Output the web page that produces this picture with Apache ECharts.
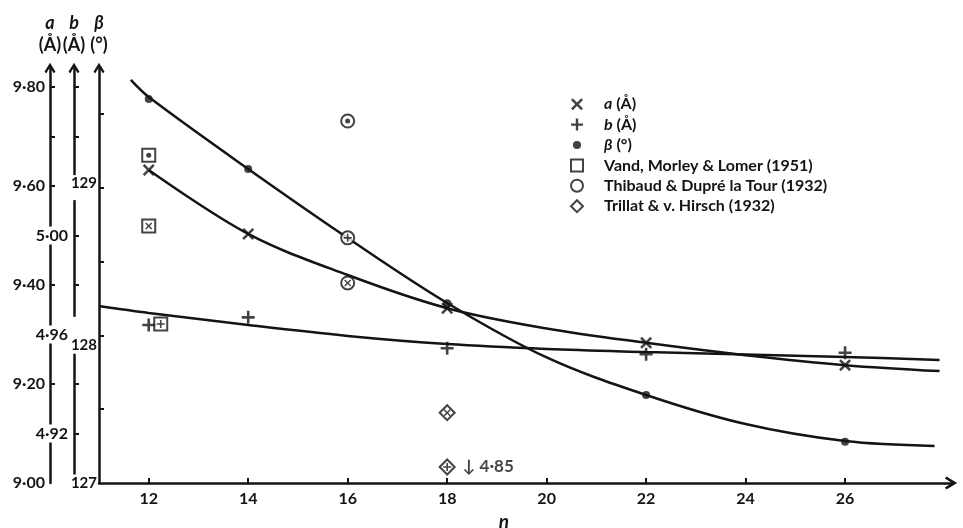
<!DOCTYPE html>
<html>
<head>
<meta charset="utf-8">
<script src="https://cdn.jsdelivr.net/npm/echarts@6/dist/echarts.min.js"></script>
<style>html,body{margin:0;padding:0;background:#fff}#c{width:963px;height:528px}</style>
</head>
<body>
<div id="c"></div>
<script>
// ---------------- data ----------------
// main measurements (n = number of carbon atoms)
const nMain    = [12, 14, 18, 22, 26];
const aMain    = [9.632, 9.503, 9.353, 9.283, 9.238];
const bMain    = [4.9638, 4.9669, 4.9544, 4.9520, 4.9526];
const betaMain = [129.600, 129.126, 128.217, 127.596, 127.280];

// smooth fitted curves
const aCurveN    = [12, 14, 16, 18, 20, 22, 24, 26, 27.9];
const aCurve     = [9.632, 9.503, 9.420, 9.353, 9.312, 9.283, 9.258, 9.238, 9.226];
const bCurveN    = [11, 12, 14, 16, 18, 20, 22, 24, 26, 27.9];
const bCurve     = [4.9715, 4.9687, 4.9638, 4.9594, 4.9561, 4.9541, 4.9529, 4.9519, 4.9509, 4.9497];
const betaCurveN = [11.64, 12, 14, 16, 18, 20, 22, 24, 26, 27.8];
const betaCurve  = [129.729, 129.613, 129.126, 128.659, 128.219, 127.850, 127.596, 127.399, 127.284, 127.251];

// literature values
const vandN = [12];  const vandA = [9.519]; const vandB = [4.9642]; const vandBeta = [129.219];   // Vand, Morley & Lomer (1951)
const thibN = [16];  const thibA = [9.404]; const thibB = [4.999];  const thibBeta = [129.451];   // Thibaud & Dupré la Tour (1932)
const trilN = [18];  const trilA = [9.142]; const trilB = [4.85];                                 // Trillat & v. Hirsch (1932)

// tick labels
const xTicks     = [12, 14, 16, 18, 20, 22, 24, 26];
const aLabels    = [9.0, 9.2, 9.4, 9.6, 9.8];
const aTicks     = [9.1, 9.2, 9.3, 9.4, 9.5, 9.6, 9.7, 9.8];
const bLabels    = [4.92, 4.96, 5.00];
const bTicks     = [4.92, 4.94, 4.96, 4.98, 5.00, 5.02, 5.04, 5.06];
const betaLabels = [127, 128, 129];
const betaTicks  = [127.5, 128, 128.5, 129, 129.5];

const legendNames = ['a (Å)', 'b (Å)', 'β (°)', 'Vand, Morley & Lomer (1951)', 'Thibaud & Dupré la Tour (1932)', 'Trillat & v. Hirsch (1932)'];

// ---------------- styling ----------------
const INK = '#141414';
const FONT = 'Lato, "Open Sans", "DejaVu Sans", sans-serif';
const SYM_X = 'path://M1.5,0L5,3.5L8.5,0L10,1.5L6.5,5L10,8.5L8.5,10L5,6.5L1.5,10L0,8.5L3.5,5L0,1.5Z';
const SYM_PLUS = 'path://M4,0H6V4H10V6H6V10H4V6H0V4H4Z';
const SYM_DOT_LEGEND = 'path://M0,0L0.001,0Z M10,10L10.001,10Z M5,1.6A3.4,3.4,0,1,1,4.99,1.6Z';
const ARROW = 'path://M5,0L10,8.2L8.4,9.4L5,4L1.6,9.4L0,8.2Z';

const X_MIN = 11, X_MAX = 28.13;
const A_MIN = 9.00, A_MAX = 9.838;
const B_MIN = 4.90, B_MAX = 5.0676;
const BETA_MIN = 127, BETA_MAX = 129.81;

const zip = (xs, ys) => xs.map((x, i) => [x, ys[i]]);
const dotFmt = v => v.toFixed(2).replace('.', '·');

function curve(data, axis) {
  return { type: 'line', yAxisIndex: axis, data, smooth: 0.35, showSymbol: false, silent: true,
    lineStyle: { color: INK, width: 2.5 }, itemStyle: { color: INK }, z: 2 };
}
function pts(name, axis, data, symbol, size, extra) {
  return Object.assign({ type: 'scatter', name, yAxisIndex: axis, data, symbol, symbolSize: size,
    clip: false, silent: true, itemStyle: { color: INK }, z: 4 }, extra || {});
}
function ringed(name, axis, data, ring, ringSize, inner, innerSize, extra) {
  const e = extra || {};
  return [
    pts(name, axis, data, ring, ringSize, Object.assign({ z: 3 }, e)),
    pts(name, axis, data, inner, innerSize, { z: 4, symbolOffset: e.symbolOffset || [0, 0] })
  ];
}

const VAND = legendNames[3], THIB = legendNames[4], TRIL = legendNames[5];
const trilBShown = trilN.map((n, i) => [n, Math.max(trilB[i], B_MIN)]);
const LABEL_FONT = { color: INK, fontFamily: FONT, fontSize: 16, fontWeight: 'bold' };

const series = [
  curve(zip(aCurveN, aCurve), 0),
  curve(zip(bCurveN, bCurve), 1),
  curve(zip(betaCurveN, betaCurve), 2),
  pts(legendNames[0], 0, zip(nMain, aMain), SYM_X, 12),
  pts(legendNames[1], 1, zip(nMain, bMain), SYM_PLUS, 13),
  pts(legendNames[2], 2, zip(nMain, betaMain), 'circle', 8),
  ...ringed(VAND, 0, zip(vandN, vandA), 'emptyRect', 13, SYM_X, 7),
  ...ringed(VAND, 1, zip(vandN, vandB), 'emptyRect', 13, SYM_PLUS, 8, { symbolOffset: [12, 0] }),
  ...ringed(VAND, 2, zip(vandN, vandBeta), 'emptyRect', 13, 'circle', 5),
  ...ringed(THIB, 0, zip(thibN, thibA), 'emptyCircle', 13, SYM_X, 7),
  ...ringed(THIB, 1, zip(thibN, thibB), 'emptyCircle', 13, SYM_PLUS, 8),
  ...ringed(THIB, 2, zip(thibN, thibBeta), 'emptyCircle', 13, 'circle', 5),
  ...ringed(TRIL, 0, zip(trilN, trilA), 'emptyDiamond', 15, SYM_X, 7),
  ...ringed(TRIL, 1, trilBShown, 'emptyDiamond', 15, SYM_PLUS, 8, {
    symbolOffset: [0, -16],
    label: { show: true, position: 'right', distance: 7, fontSize: 17, color: INK, fontFamily: FONT, fontWeight: 'bold',
      formatter: () => '↓ ' + dotFmt(trilB[0]) }
  })
];

function yAxis(min, max, offset, labels, ticks, fmt, nameRich, labelExtra) {
  return {
    type: 'value', position: 'left', offset, min, max,
    name: nameRich, nameLocation: 'end', nameGap: 12,
    nameTextStyle: { color: INK, fontFamily: FONT, fontSize: 18, fontWeight: 'bold', lineHeight: 22, align: 'center',
      rich: { i: { fontStyle: 'italic', fontFamily: FONT, fontSize: 18, fontWeight: 'bold', color: INK, lineHeight: 22 } } },
    axisLine: { show: true, symbol: ['none', ARROW], symbolSize: [11, 12], lineStyle: { color: INK, width: 2.5 } },
    axisTick: { show: true, inside: true, length: 5, customValues: ticks, lineStyle: { color: INK, width: 2 } },
    axisLabel: Object.assign({ show: true, customValues: labels, formatter: fmt, margin: 4,
      backgroundColor: '#fff', padding: [1, 1] }, LABEL_FONT, labelExtra || {}),
    splitLine: { show: false }
  };
}

const option = {
  animation: false,
  backgroundColor: '#fff',
  grid: { left: 99, right: 12, top: 68, bottom: 45, containLabel: false, outerBoundsMode: 'none' },
  legend: {
    orient: 'vertical', left: 570, top: 94, padding: 0, itemGap: 0, itemWidth: 12, itemHeight: 12,
    selectedMode: false,
    textStyle: { color: INK, fontFamily: FONT, fontSize: 16, fontWeight: 'bold', lineHeight: 20.4,
      rich: {
        sp: { width: 16 },
        i: { fontStyle: 'italic', fontFamily: FONT, fontSize: 16, fontWeight: 'bold', color: INK, lineHeight: 20.4 },
        t: { fontFamily: FONT, fontSize: 16, fontWeight: 'bold', color: INK, lineHeight: 20.4 }
      } },
    formatter: name => {
      const m = name.match(/^([abβ]) (.*)$/);
      return m ? '{sp|}{i|' + m[1] + '} {t|' + m[2] + '}' : '{sp|}{t|' + name + '}';
    },
    data: [
      { name: legendNames[0], icon: SYM_X },
      { name: legendNames[1], icon: SYM_PLUS },
      { name: legendNames[2], icon: SYM_DOT_LEGEND },
      { name: legendNames[3], icon: 'emptyRect' },
      { name: legendNames[4], icon: 'emptyCircle' },
      { name: legendNames[5], icon: 'emptyDiamond' }
    ]
  },
  xAxis: {
    type: 'value', min: X_MIN, max: X_MAX,
    name: 'n', nameLocation: 'middle', nameGap: 29,
    nameTextStyle: { color: INK, fontFamily: FONT, fontSize: 19, fontStyle: 'italic', fontWeight: 'bold', padding: [0, 42, 0, 0] },
    axisLine: { show: true, onZero: false, symbol: ['none', ARROW], symbolSize: [13, 14], lineStyle: { color: INK, width: 2.5 } },
    axisTick: { show: true, inside: true, length: 5, customValues: xTicks, lineStyle: { color: INK, width: 2 } },
    axisLabel: Object.assign({ customValues: xTicks, margin: 8 }, LABEL_FONT),
    splitLine: { show: false }
  },
  yAxis: [
    yAxis(A_MIN, A_MAX, 49, aLabels, aTicks, dotFmt, '{i|a}\n(Å)'),
    yAxis(B_MIN, B_MAX, 25, bLabels, bTicks, dotFmt, '{i|b}\n(Å)', { margin: 5 }),
    yAxis(BETA_MIN, BETA_MAX, 0, betaLabels, betaTicks,
      v => { const r = Math.round(v); return '{' + (r === 128 ? 'lo' : r === 129 ? 'hi' : 'n') + '|' + r + '}'; },
      '{i|β}\n(°)',
      { margin: 2, fontSize: 15, padding: [1, 0], rich: {
          n: { fontFamily: FONT, fontSize: 15, fontWeight: 'bold', color: INK },
          lo: { fontFamily: FONT, fontSize: 15, fontWeight: 'bold', color: INK, padding: [20, 0, 0, 0] },
          hi: { fontFamily: FONT, fontSize: 15, fontWeight: 'bold', color: INK, padding: [0, 0, 8, 0] } } })
  ],
  series
};

const chart = echarts.init(document.getElementById('c'), null, { renderer: 'canvas' });
chart.setOption(option);
</script>
</body>
</html>
